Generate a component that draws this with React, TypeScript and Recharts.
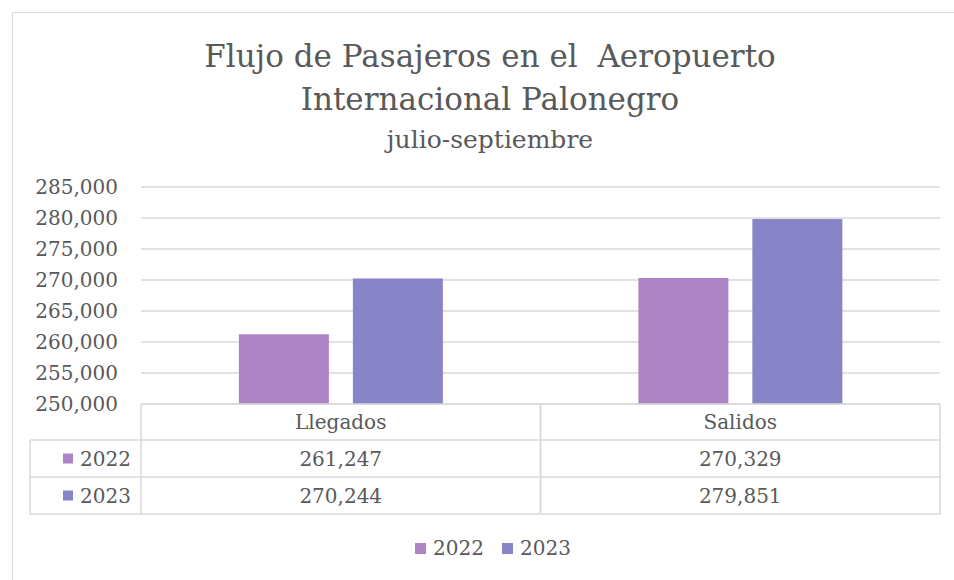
import { Bar, BarChart, CartesianGrid, Legend, XAxis, YAxis } from "recharts";

const categories = ["Llegados", "Salidos"];
const seriesNames = ["2022", "2023"];
const values2022 = [261247, 270329];
const values2023 = [270244, 279851];
const yTicks = [250000, 255000, 260000, 265000, 270000, 275000, 280000, 285000];

const COLORS = ["#ad84c6", "#8784c7"];
const TEXT = "#595959";
const LINE = "#d9d9d9";
const FONT = "'DejaVu Serif', serif";

const W = 954;
const H = 580;
const M = { top: 187, right: 14, left: 0, bottom: 66 };
const Y_W = 141;
const TABLE_H = 110;
const ROW = [36, 73, 110];
const KEY_COL = 111;

const rows = [values2022, values2023];
const data = categories.map((name, i) => ({
  name,
  y2022: values2022[i],
  y2023: values2023[i],
}));

const fmt = (v: number) => v.toLocaleString("en-US");

const bandW = (W - Y_W - M.right) / categories.length;

function TableTick(props: any) {
  const { x, y, payload, index } = props;
  const left = x - bandW / 2;
  const right = x + bandW / 2;
  const line = { stroke: LINE, strokeWidth: 1.5 };
  return (
    <g>
      <line x1={left} x2={right} y1={y} y2={y} {...line} />
      <line x1={left} x2={left} y1={y} y2={y + TABLE_H} {...line} />
      <line x1={right} x2={right} y1={y} y2={y + TABLE_H} {...line} />
      {ROW.map((r) => (
        <line key={r} x1={left} x2={right} y1={y + r} y2={y + r} {...line} />
      ))}
      <text x={x} y={y + 18} dy="0.35em" textAnchor="middle" fill={TEXT} fontSize={20} fontFamily={FONT}>
        {payload.value}
      </text>
      {rows.map((vals, ri) => (
        <text
          key={ri}
          x={x}
          y={y + (ROW[ri] + ROW[ri + 1]) / 2}
          dy="0.35em"
          textAnchor="middle"
          fill={TEXT}
          fontSize={20}
          fontFamily={FONT}
        >
          {fmt(vals[index])}
        </text>
      ))}
      {index === 0 && (
        <g>
          <line x1={left - KEY_COL} x2={left - KEY_COL} y1={y + ROW[0]} y2={y + ROW[2]} {...line} />
          {ROW.map((r) => (
            <line key={r} x1={left - KEY_COL} x2={left} y1={y + r} y2={y + r} {...line} />
          ))}
          {seriesNames.map((s, si) => {
            const cy = y + (ROW[si] + ROW[si + 1]) / 2;
            return (
              <g key={s}>
                <rect x={left - KEY_COL + 33} y={cy - 5} width={10} height={10} fill={COLORS[si]} />
                <text x={left - KEY_COL + 50} y={cy} dy="0.35em" fill={TEXT} fontSize={20} fontFamily={FONT}>
                  {s}
                </text>
              </g>
            );
          })}
        </g>
      )}
    </g>
  );
}

function LegendContent() {
  return (
    <div style={{ display: "flex", justifyContent: "center", gap: 18, fontFamily: FONT, fontSize: 20, color: TEXT }}>
      {seriesNames.map((s, i) => (
        <span key={s} style={{ display: "flex", alignItems: "center", gap: 7 }}>
          <span style={{ width: 11, height: 11, background: COLORS[i], display: "inline-block" }} />
          {s}
        </span>
      ))}
    </div>
  );
}

export default function App() {
  return (
    <div style={{ position: "absolute", left: 0, top: 0, width: W, height: H, overflow: "hidden", background: "#fff" }}>
      <div
        style={{
          position: "absolute",
          left: 12,
          top: 12,
          width: W + 20,
          height: H + 20,
          border: `1.5px solid ${LINE}`,
        }}
      />
      <div
        style={{
          position: "absolute",
          left: 0,
          width: 980,
          top: 35,
          textAlign: "center",
          fontFamily: FONT,
          color: TEXT,
        }}
      >
        <div style={{ fontSize: 31, lineHeight: "43px" }}>Flujo de Pasajeros en el&nbsp; Aeropuerto</div>
        <div style={{ fontSize: 31, lineHeight: "43px" }}>Internacional Palonegro</div>
        <div style={{ fontSize: 25, lineHeight: "37px" }}>julio-septiembre</div>
      </div>
      <div style={{ position: "absolute", left: 0, top: 0 }}>
        <BarChart width={W} height={H} data={data} margin={M} barCategoryGap="24.5%" barGap={24}>
          <CartesianGrid vertical={false} stroke={LINE} strokeWidth={1.5} />
          <XAxis
            dataKey="name"
            height={TABLE_H}
            axisLine={false}
            tickLine={false}
            tickSize={0}
            tickMargin={0}
            interval={0}
            tick={<TableTick />}
          />
          <YAxis
            width={Y_W}
            domain={[250000, 285000]}
            ticks={yTicks}
            interval={0}
            axisLine={false}
            tickLine={false}
            tickSize={0}
            tickMargin={23}
            tickFormatter={fmt}
            tick={{ fill: TEXT, fontSize: 20, fontFamily: FONT }}
            allowDataOverflow
          />
          <Bar dataKey="y2022" name="2022" fill={COLORS[0]} isAnimationActive={false} />
          <Bar dataKey="y2023" name="2023" fill={COLORS[1]} isAnimationActive={false} />
          <Legend
            verticalAlign="middle"
            align="center"
            content={<LegendContent />}
            wrapperStyle={{ top: 536, left: 0, width: 986 }}
          />
        </BarChart>
      </div>
    </div>
  );
}
